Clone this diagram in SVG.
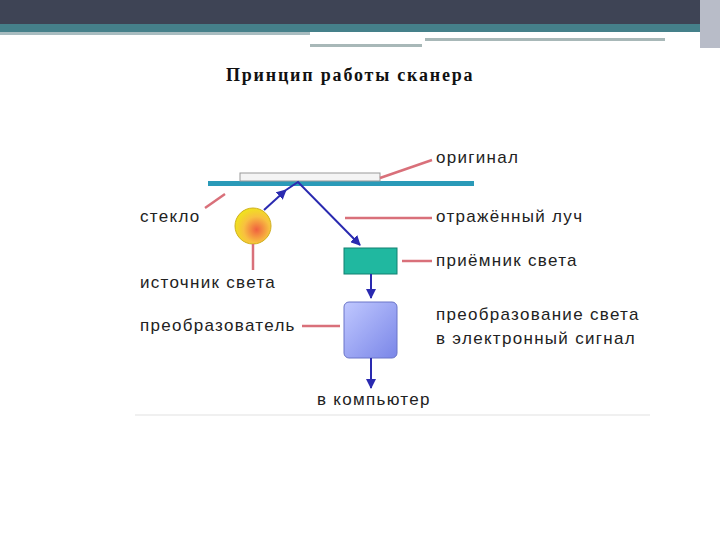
<svg xmlns="http://www.w3.org/2000/svg" width="720" height="540" viewBox="0 0 720 540">
<style>
.t{font-family:"Liberation Sans",Arial,sans-serif;font-size:17px;letter-spacing:1.3px;fill:#222}
.lead{stroke:#d9707a;stroke-width:2.5;fill:none}
.ray{stroke:#2a2ab0;stroke-width:2;fill:none}
</style>
<defs>
<marker id="ah" viewBox="0 0 10 10" refX="9" refY="5" markerWidth="5" markerHeight="5" orient="auto"><path d="M0,0L10,5L0,10z" fill="#2a2ab0"/></marker>
<radialGradient id="bulb" cx="0.6" cy="0.6" r="0.6"><stop offset="0" stop-color="#f06040"/><stop offset="0.6" stop-color="#f8c040"/><stop offset="1" stop-color="#f0e020"/></radialGradient>
<linearGradient id="conv" x1="0" y1="0" x2="1" y2="1"><stop offset="0" stop-color="#c0c8ff"/><stop offset="1" stop-color="#7a86e8"/></linearGradient>
</defs>
<rect width="720" height="540" fill="#fff"/>
<rect width="720" height="24" fill="#3e4455"/>
<rect y="24" width="720" height="8" fill="#45808a"/>
<rect y="32" width="310" height="3" fill="#a8bcc0"/>
<rect x="425" y="38" width="240" height="3" fill="#a8b8b8"/>
<rect x="310" y="44" width="112" height="3" fill="#a8b8b8"/>
<rect x="700" y="0" width="20" height="48" fill="#b8bcc8"/>
<text x="226" y="81" font-family="'Liberation Serif',serif" font-weight="bold" font-size="18" letter-spacing="1.8" fill="#111">Принцип работы сканера</text>
<g id="glass"><rect x="208" y="181" width="266" height="5" fill="#2a9ab8"/></g>
<g id="original"><rect x="240" y="173" width="140" height="8" fill="#f4f4f4" stroke="#999"/></g>
<g id="bulb-node"><circle cx="253" cy="226" r="18" fill="url(#bulb)" stroke="#d0b020"/></g>
<g id="receiver"><rect x="344" y="248" width="53" height="26" fill="#20b8a0" stroke="#108070"/></g>
<g id="converter"><rect x="344" y="302" width="53" height="56" rx="5" fill="url(#conv)" stroke="#6a74c8"/></g>
<g id="connectors">
<path class="lead" d="M380,178L432,160"/>
<path class="lead" d="M225,194L205,208"/>
<path class="lead" d="M345,218H432"/>
<path class="lead" d="M402,261H432"/>
<path class="lead" d="M253,244V270"/>
<path class="lead" d="M302,326H340"/>
<path class="ray" d="M264,210L286,190" marker-end="url(#ah)"/>
<path class="ray" d="M286,190L298,182L360,245" marker-end="url(#ah)"/>
<path class="ray" d="M371,274V298" marker-end="url(#ah)"/>
<path class="ray" d="M371,358V388" marker-end="url(#ah)"/>
</g>
<g id="labels">
<text class="t" x="436" y="163">оригинал</text>
<text class="t" x="140" y="222">стекло</text>
<text class="t" x="436" y="222">отражённый луч</text>
<text class="t" x="436" y="266">приёмник света</text>
<text class="t" x="140" y="288">источник света</text>
<text class="t" x="140" y="331">преобразователь</text>
<text class="t" x="436" y="320">преобразование света</text>
<text class="t" x="436" y="344">в электронный сигнал</text>
<text class="t" x="317" y="405">в компьютер</text>
</g>
<path d="M135,415H650" stroke="#f0f0f0" stroke-width="2"/>
</svg>
